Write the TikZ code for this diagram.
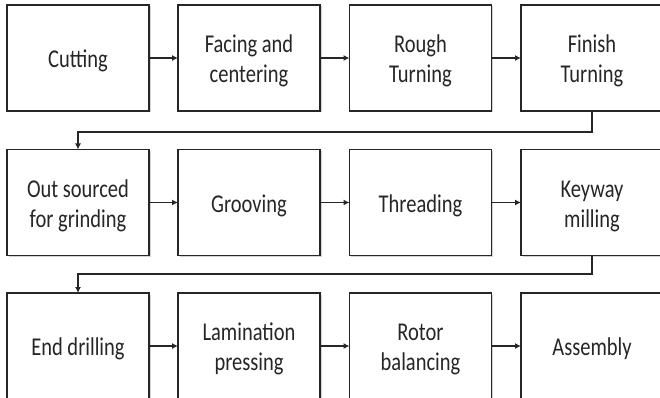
\documentclass[tikz,border=0pt]{standalone}
\usepackage{fontspec}
\setmainfont{Carlito}
\usetikzlibrary{arrows.meta,shadows,calc}
\newcommand{\boxtext}[1]{\raisebox{-3.5pt}[\height][\depth]{\scalebox{1}[1.25]{\begin{tabular}{@{}c@{}}#1\end{tabular}}}}
\definecolor{linec}{HTML}{262626}
\tikzset{
  stepbox/.style={draw=linec, line width=1.4pt, fill=white, rectangle,
    minimum width=142pt, minimum height=106pt, inner sep=0pt, outer sep=0pt,
    font=\fontsize{20.5}{24}\selectfont, text=black!85,
    drop shadow={shadow xshift=1.5pt, shadow yshift=-1.5pt, opacity=0.35, fill=gray}},
  arr/.style={draw=linec, line width=1.3pt, -{Latex[length=6pt,width=6pt]}},
}
\begin{document}
\begin{tikzpicture}[x=1pt,y=-1pt]
\useasboundingbox (0,0) rectangle (660,398);
\node[stepbox] (b1) at (78,58) {\boxtext{Cutting}};
\node[stepbox] (b2) at (249,58) {\boxtext{Facing and\\centering}};
\node[stepbox] (b3) at (420.5,58) {\boxtext{Rough\\Turning}};
\node[stepbox] (b4) at (592,58) {\boxtext{Finish\\Turning}};
\node[stepbox] (b5) at (78,202.5) {\boxtext{Out sourced\\for grinding}};
\node[stepbox] (b6) at (249,202.5) {\boxtext{Grooving}};
\node[stepbox] (b7) at (420.5,202.5) {\boxtext{Threading}};
\node[stepbox] (b8) at (592,202.5) {\boxtext{Keyway\\milling}};
\node[stepbox] (b9) at (78,346) {\boxtext{End drilling}};
\node[stepbox] (b10) at (249,346) {\boxtext{Lamination\\pressing}};
\node[stepbox] (b11) at (420.5,346) {\boxtext{Rotor\\balancing}};
\node[stepbox] (b12) at (592,346) {\boxtext{Assembly}};
\coordinate (t1) at (78,132);
\coordinate (t2) at (78,274);
\draw[arr] (b1) -- (b2);
\draw[arr] (b2) -- (b3);
\draw[arr] (b3) -- (b4);
\draw[arr] (b5) -- (b6);
\draw[arr] (b6) -- (b7);
\draw[arr] (b7) -- (b8);
\draw[arr] (b9) -- (b10);
\draw[arr] (b10) -- (b11);
\draw[arr] (b11) -- (b12);
\draw[arr] (b4.south) |- (t1) -- (b5.north);
\draw[arr] (b8.south) |- (t2) -- (b9.north);
\end{tikzpicture}
\end{document}
